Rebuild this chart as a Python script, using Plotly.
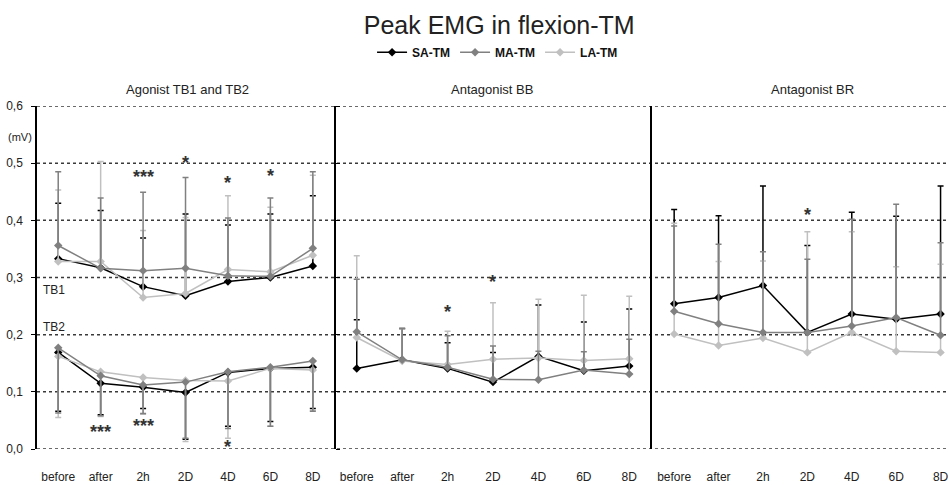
import plotly.graph_objects as go

# Sampling points and groups
times = ["before", "after", "2h", "2D", "4D", "6D", "8D"]
groups = ["SA-TM", "MA-TM", "LA-TM"]
group_colors = ["#000000", "#808080", "#c0c0c0"]

# Agonist TB1: mean peak EMG (mV) and SD (drawn upward)
tb1_sa = [0.333, 0.317, 0.284, 0.268, 0.293, 0.300, 0.320]
tb1_ma = [0.356, 0.316, 0.312, 0.316, 0.303, 0.302, 0.351]
tb1_la = [0.328, 0.328, 0.265, 0.272, 0.314, 0.310, 0.339]
tb1_sa_sd = [0.097, 0.100, 0.085, 0.143, 0.099, 0.111, 0.123]
tb1_ma_sd = [0.129, 0.123, 0.137, 0.159, 0.101, 0.137, 0.134]
tb1_la_sd = [0.125, 0.175, 0.117, 0.133, 0.129, 0.113, 0.140]

# Agonist TB2: mean peak EMG (mV) and SD (drawn downward)
tb2_sa = [0.169, 0.115, 0.108, 0.099, 0.134, 0.141, 0.143]
tb2_ma = [0.177, 0.128, 0.112, 0.117, 0.135, 0.143, 0.154]
tb2_la = [0.162, 0.135, 0.125, 0.120, 0.119, 0.141, 0.138]
tb2_sa_sd = [0.103, 0.055, 0.037, 0.082, 0.094, 0.093, 0.072]
tb2_ma_sd = [0.114, 0.070, 0.050, 0.098, 0.099, 0.103, 0.088]
tb2_la_sd = [0.107, 0.078, 0.064, 0.107, 0.100, 0.101, 0.071]

# Antagonist BB
bb_sa = [0.141, 0.156, 0.141, 0.117, 0.162, 0.137, 0.145]
bb_ma = [0.205, 0.156, 0.143, 0.122, 0.121, 0.138, 0.131]
bb_la = [0.195, 0.154, 0.148, 0.157, 0.159, 0.155, 0.158]
bb_sa_sd = [0.085, 0.055, 0.045, 0.052, 0.090, 0.085, 0.100]
bb_ma_sd = [0.092, 0.055, 0.055, 0.058, 0.050, 0.032, 0.061]
bb_la_sd = [0.143, 0.056, 0.058, 0.099, 0.103, 0.114, 0.109]

# Antagonist BR
br_sa = [0.254, 0.265, 0.286, 0.204, 0.236, 0.227, 0.236]
br_ma = [0.241, 0.219, 0.204, 0.204, 0.215, 0.230, 0.199]
br_la = [0.201, 0.181, 0.194, 0.169, 0.204, 0.171, 0.169]
br_sa_sd = [0.165, 0.143, 0.174, 0.152, 0.178, 0.180, 0.224]
br_ma_sd = [0.149, 0.139, 0.141, 0.128, 0.187, 0.198, 0.162]
br_la_sd = [0.194, 0.147, 0.135, 0.211, 0.176, 0.148, 0.154]

# Significance marks: (panel, time point, label, level in mV)
sig_marks = [
    (1, "2h", "***", 0.476), (1, "2D", "*", 0.501), (1, "4D", "*", 0.466),
    (1, "6D", "*", 0.477), (1, "after", "***", 0.029), (1, "2h", "***", 0.041),
    (1, "2D", "***", -0.005), (1, "4D", "*", 0.004),
    (2, "2h", "*", 0.240), (2, "2D", "*", 0.293),
    (3, "2D", "*", 0.410),
]

panel_titles = ["Agonist TB1 and TB2", "Antagonist BB", "Antagonist BR"]
y_ticks = [0.0, 0.1, 0.2, 0.3, 0.4, 0.5, 0.6]

FONT = "Liberation Sans, Arial, sans-serif"
TXT = "#222222"

panels = [
    # (axis suffix, series means, series SDs, SD direction, in legend)
    ("", [tb1_sa, tb1_ma, tb1_la], [tb1_sa_sd, tb1_ma_sd, tb1_la_sd], "up", True),
    ("", [tb2_sa, tb2_ma, tb2_la], [tb2_sa_sd, tb2_ma_sd, tb2_la_sd], "down", False),
    ("2", [bb_sa, bb_ma, bb_la], [bb_sa_sd, bb_ma_sd, bb_la_sd], "up", False),
    ("3", [br_sa, br_ma, br_la], [br_sa_sd, br_ma_sd, br_la_sd], "up", False),
]

fig = go.Figure()
draw_order = [0, 2, 1]  # grey MA series on top
for suffix, means, sds, direction, in_legend in panels:
    for gi in draw_order:
        sd = sds[gi]
        zeros = [0] * len(sd)
        err = dict(
            type="data", symmetric=False,
            array=sd if direction == "up" else zeros,
            arrayminus=zeros if direction == "up" else sd,
            color=group_colors[gi], thickness=1.5, width=3,
        )
        fig.add_trace(go.Scatter(
            x=times, y=means[gi], name=groups[gi],
            mode="lines+markers",
            line=dict(color=group_colors[gi], width=1.5),
            marker=dict(symbol="diamond", size=6.5, color=group_colors[gi]),
            error_y=err,
            xaxis="x" + suffix, yaxis="y" + suffix,
            showlegend=in_legend, legendrank=gi,
        ))

# dotted horizontal grid running across all three panels
shapes = []
for v in y_ticks:
    shapes.append(dict(type="line", xref="paper", x0=0, x1=1, yref="y", y0=v, y1=v,
                       line=dict(color="#3a3a3a", width=1.5, dash="dot"), layer="below"))

annotations = []
title_x = [0.165, 0.4986, 0.8503]
for t, xx in zip(panel_titles, title_x):
    annotations.append(dict(text=t, xref="paper", yref="paper", x=xx, y=1.048,
                            showarrow=False, xanchor="center", yanchor="middle",
                            font=dict(family=FONT, size=13, color=TXT)))
for panel, tp, lab, lvl in sig_marks:
    suffix = "" if panel == 1 else str(panel)
    annotations.append(dict(text=lab, xref="x" + suffix, yref="y" + suffix,
                            x=times.index(tp), y=lvl, showarrow=False,
                            xanchor="center", yanchor="middle",
                            font=dict(family=FONT, size=18, color="#333333", weight="bold")))
annotations += [
    dict(text="(mV)", xref="paper", yref="paper", x=-0.0186, y=0.9096, showarrow=False,
         xanchor="center", yanchor="middle", font=dict(family=FONT, size=11, color=TXT)),
    dict(text="TB1", xref="x", yref="y", x=-0.1, y=0.278, showarrow=False,
         xanchor="center", yanchor="middle", font=dict(family=FONT, size=12, color=TXT)),
    dict(text="TB2", xref="x", yref="y", x=-0.1, y=0.213, showarrow=False,
         xanchor="center", yanchor="middle", font=dict(family=FONT, size=12, color=TXT)),
]

xcommon = dict(type="category", categoryarray=times, showgrid=False, showline=False,
               ticks="", ticklabelstandoff=19, zeroline=False,
               tickfont=dict(family=FONT, size=12, color=TXT))
ycommon = dict(range=[0, 0.6], tickvals=y_ticks, tickformat=".1f", showgrid=False,
               zeroline=False, showline=True, linecolor="#000", linewidth=1.5)

fig.update_layout(
    width=949, height=485,
    margin=dict(l=37, r=0, t=106, b=36),
    paper_bgcolor="white", plot_bgcolor="white",
    separators=", ",
    title=dict(text="Peak EMG in flexion-TM", x=0.526, xref="container", xanchor="center",
               y=0.948, yref="container", yanchor="middle",
               font=dict(family=FONT, size=25, color=TXT)),
    legend=dict(orientation="h", x=0.505, xanchor="center", y=1.157, yanchor="middle",
                font=dict(family=FONT, size=12, color="#111", weight="bold"), itemwidth=30,
                traceorder="normal", bgcolor="rgba(0,0,0,0)"),
    xaxis=dict(xcommon, domain=[0, 0.3257], range=[-0.5, 6.5], anchor="y"),
    xaxis2=dict(xcommon, domain=[0.3257, 0.6743], range=[-0.5, 6.5], anchor="y2"),
    xaxis3=dict(xcommon, domain=[0.6743, 1.0], range=[-0.5, 6.19], anchor="y3"),
    yaxis=dict(ycommon, anchor="x", ticks="outside", ticklen=4, tickcolor="#000",
               mirror="ticks", ticklabelstandoff=6,
               tickfont=dict(family=FONT, size=12, color=TXT)),
    yaxis2=dict(ycommon, anchor="x2", showticklabels=False, showline=False),
    yaxis3=dict(ycommon, anchor="x3", showticklabels=False),
    shapes=shapes, annotations=annotations,
)

fig.write_html("out.html")
